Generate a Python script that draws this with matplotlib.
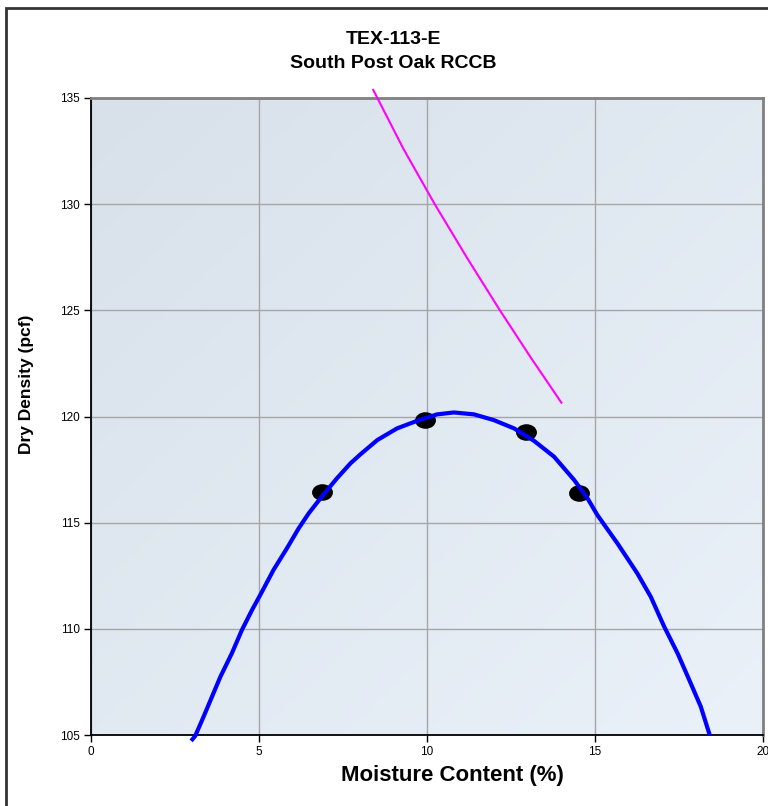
import numpy as np
import matplotlib
matplotlib.use("Agg")
import matplotlib.pyplot as plt
from matplotlib.patches import Rectangle
from matplotlib.path import Path
from matplotlib.transforms import Affine2D

plt.rcParams["font.family"] = ["Liberation Sans", "DejaVu Sans"]

# test points (moisture %, dry density pcf)
moisture = [6.87, 9.93, 12.94, 14.51]
density = [116.43, 119.83, 119.29, 116.38]

# fitted compaction curve
curve_x = [3.02, 3.10, 3.35, 3.60, 3.85, 4.19, 4.49, 4.79, 5.09, 5.43, 5.83,
           6.18, 6.48, 6.88, 7.32, 7.72, 8.02, 8.52, 9.11, 9.71, 10.30,
           10.80, 11.40, 11.99, 12.59, 13.18, 13.78, 14.38, 14.78, 15.07,
           15.67, 16.26, 16.66, 17.06, 17.46, 17.85, 18.15, 18.40]
curve_y = [104.8, 104.95, 105.86, 106.80, 107.74, 108.84, 109.94, 110.88,
           111.75, 112.77, 113.79, 114.73, 115.44, 116.25, 117.09, 117.79,
           118.22, 118.89, 119.44, 119.80, 120.10, 120.19, 120.10, 119.83,
           119.44, 118.86, 118.11, 117.01, 116.14, 115.36, 114.02, 112.61,
           111.51, 110.10, 108.84, 107.43, 106.33, 105.07]

# zero air voids line
zav_x = [8.40, 9.30, 10.23, 11.20, 12.17, 13.10, 14.00]
zav_y = [135.38, 132.6, 130.0, 127.45, 125.0, 122.75, 120.65]

x_ticks = [0, 5, 10, 15, 20]
y_ticks = [105, 110, 115, 120, 125, 130, 135]

fig = plt.figure(figsize=(7.68, 8.06), dpi=100)
fig.patch.set_facecolor("white")

# outer chart frame (right and bottom edges run off the picture)
fig.patches.append(Rectangle((6 / 768, -0.1), 1.2, 1.1 - 8 / 806,
                             transform=fig.transFigure, facecolor="none",
                             edgecolor="#333333", linewidth=2))

ax = fig.add_axes([91 / 768, 1 - 735 / 806, 672 / 768, 637 / 806])
ax.set_xlim(0, 20)
ax.set_ylim(105, 135)

# diagonal gradient background, darker top-left -> lighter bottom-right
gx, gy = np.meshgrid(np.linspace(0, 1, 200), np.linspace(0, 1, 200))
t = (gx + gy) / 2
c0 = np.array([0xd8, 0xe1, 0xea]) / 255
c1 = np.array([0xea, 0xf1, 0xf9]) / 255
img = c0[None, None, :] * (1 - t[..., None]) + c1[None, None, :] * t[..., None]
ax.imshow(img, extent=[0, 1, 0, 1], transform=ax.transAxes, origin="upper",
          aspect="auto", zorder=0)

ax.grid(True, color="#a6a6a6", linewidth=1)
ax.set_axisbelow(True)
ax.set_xticks(x_ticks)
ax.set_yticks(y_ticks)
ax.tick_params(labelsize=8.5, length=5, width=1, colors="black", pad=3)

for s in ["left", "bottom"]:
    ax.spines[s].set_color("black")
    ax.spines[s].set_linewidth(1.3)
for s in ["top", "right"]:
    ax.spines[s].set_color("#808080")
    ax.spines[s].set_linewidth(2)

ax.plot(zav_x, zav_y, color="#ff00ff", linewidth=1.5, clip_on=False, zorder=3)
ax.plot(curve_x, curve_y, color="#0000ff", linewidth=3, clip_on=False,
        zorder=4, solid_joinstyle="round")

ellipse = Path.unit_circle().transformed(Affine2D().scale(1, 0.78))
ax.plot(moisture, density, linestyle="none", marker=ellipse, markersize=14,
        color="black", zorder=3)

fig.text(393 / 768, 1 - 40 / 806, "TEX-113-E", ha="center", va="center",
         fontsize=14, fontweight="bold")
fig.text(393 / 768, 1 - 63 / 806, "South Post Oak RCCB", ha="center",
         va="center", fontsize=14, fontweight="bold")
fig.text(452 / 768, 1 - 776 / 806, "Moisture Content (%)", ha="center",
         va="center", fontsize=16, fontweight="bold")
fig.text(27 / 768, 1 - 384 / 806, "Dry Density (pcf)", ha="center",
         va="center", fontsize=12.5, fontweight="bold", rotation=90)

fig.savefig("out.png", dpi=100)
